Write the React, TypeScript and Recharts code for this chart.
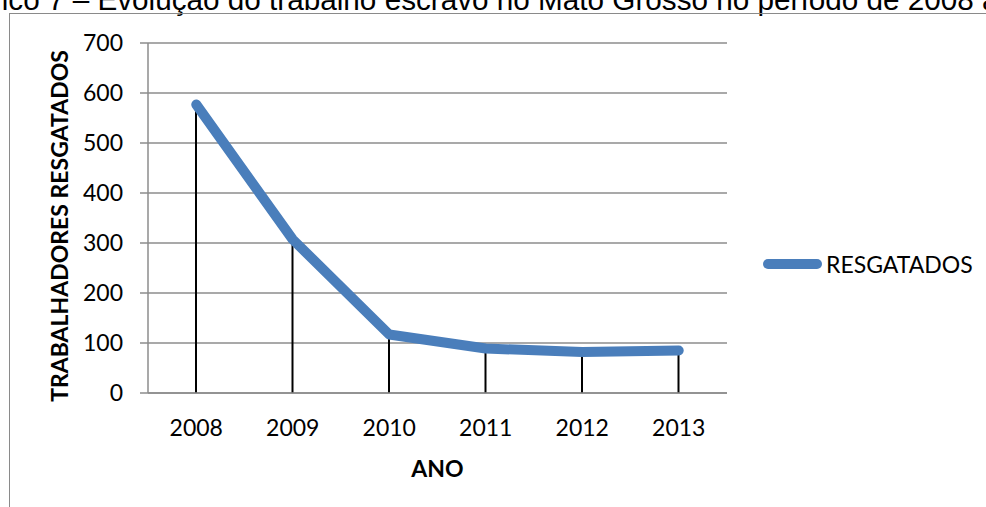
import React from 'react';
import { ComposedChart, Line, Bar, XAxis, YAxis, CartesianGrid, Label } from 'recharts';

const anos = ['2008', '2009', '2010', '2011', '2012', '2013'];
const resgatados = [577, 307, 117, 89, 82, 85];
const yTicks = [0, 100, 200, 300, 400, 500, 600, 700];
const titulo = 'Gráfico 7 – Evolução do trabalho escravo no Mato Grosso no período de 2008 a 2013';
const serieNome = 'RESGATADOS';
const eixoX = 'ANO';
const eixoY = 'TRABALHADORES RESGATADOS';

const data = anos.map((ano, i) => ({ ano, valor: resgatados[i] }));

const FONT = 'Lato, Carlito, Calibri, sans-serif';
const BLUE = '#4A7EBB';
const GRID = '#8C8C8C';
const FS = 23;

const LegendBox = () => (
  <div style={{ position: 'absolute', left: 763, top: 250, display: 'flex', alignItems: 'center', height: 28 }}>
    <svg width={59} height={12} style={{ display: 'block' }}>
      <line x1={5} y1={6} x2={54} y2={6} stroke={BLUE} strokeWidth={10} strokeLinecap="round" />
    </svg>
    <span style={{ marginLeft: 4, fontFamily: FONT, fontSize: FS, lineHeight: '28px', color: '#000', whiteSpace: 'nowrap' }}>
      {serieNome}
    </span>
  </div>
);

export default function App() {
  return (
    <div style={{ position: 'absolute', left: 0, top: 0, width: 986, height: 507, overflow: 'hidden', background: '#fff' }}>
      <div
        style={{
          position: 'absolute',
          left: -56,
          top: -15,
          whiteSpace: 'nowrap',
          fontFamily: '"Liberation Sans", Arial, sans-serif',
          fontSize: 29.7,
          lineHeight: '30px',
          color: '#000',
        }}
      >
        {titulo}
      </div>
      <div
        style={{
          position: 'absolute',
          left: 9,
          top: 13,
          width: 1000,
          height: 600,
          borderLeft: '1.5px solid #8a8a8a',
          borderTop: '1.5px solid #8a8a8a',
        }}
      />
      <div style={{ position: 'absolute', left: 0, top: 0 }}>
        <ComposedChart width={986} height={507} data={data} margin={{ top: 43, right: 259, bottom: 0, left: 0 }}>
          <CartesianGrid horizontal vertical={false} stroke={GRID} strokeWidth={1.5} />
          <XAxis
            dataKey="ano"
            height={114}
            interval={0}
            tickLine={false}
            tickSize={0}
            tickMargin={27}
            axisLine={{ stroke: GRID, strokeWidth: 1.5 }}
            tick={{ fill: '#000', fontSize: FS, fontFamily: FONT }}
          >
            <Label
              value={eixoX}
              position="insideTop"
              offset={68}
              fill="#000"
              fontSize={FS}
              fontWeight="bold"
              fontFamily={FONT}
            />
          </XAxis>
          <YAxis
            domain={[0, 700]}
            ticks={yTicks}
            interval={0}
            width={148}
            tickSize={8}
            tickMargin={17}
            axisLine={{ stroke: GRID, strokeWidth: 1.5 }}
            tickLine={{ stroke: GRID, strokeWidth: 1.5 }}
            tick={{ fill: '#000', fontSize: FS, fontFamily: FONT }}
          >
            <Label
              content={() => (
                <text
                  x={59}
                  y={226}
                  transform="rotate(-90, 59, 226)"
                  textAnchor="middle"
                  dominantBaseline="central"
                  fill="#000"
                  fontSize={FS}
                  fontWeight="bold"
                  fontFamily={FONT}
                >
                  {eixoY}
                </text>
              )}
            />
          </YAxis>
          <Line
            type="linear"
            dataKey="valor"
            name={serieNome}
            stroke={BLUE}
            strokeWidth={10}
            strokeLinecap="round"
            strokeLinejoin="round"
            dot={false}
            activeDot={false}
            isAnimationActive={false}
          />
          <Bar dataKey="valor" barSize={2} fill="#000" legendType="none" isAnimationActive={false} />
        </ComposedChart>
      </div>
      <LegendBox />
    </div>
  );
}
